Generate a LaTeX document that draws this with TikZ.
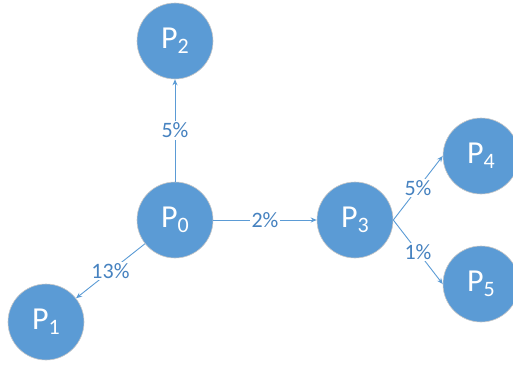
\documentclass[tikz,border=0pt]{standalone}
\usepackage{fontspec}
\setmainfont{Carlito}
\usetikzlibrary{arrows.meta}
\definecolor{nodeblue}{RGB}{91,155,213}
\definecolor{labelblue}{RGB}{70,130,192}
% state name with a lowered index
\newcommand\pstate[1]{P\raisebox{-5pt}{\fontsize{22}{22}\selectfont#1}}
\begin{document}
\begin{tikzpicture}[x=1pt,y=-1pt,
  state/.style={circle,fill=nodeblue,draw=black!22,line width=0.6pt,
    minimum size=76pt,inner sep=0pt,text=white,
    font=\fontsize{32}{32}\selectfont},
  link/.style={draw=nodeblue,line width=0.9pt,-{Stealth[length=6pt,width=5pt]}},
  pct/.style={fill=white,text=labelblue,inner sep=1.5pt,
    font=\fontsize{22}{22}\selectfont}]
\useasboundingbox (0,0) rectangle (513,364);

\node[state] (p0) at (175,220) {\pstate{0}};
\node[state] (p1) at (46,322)  {\pstate{1}};
\node[state] (p2) at (175,41)  {\pstate{2}};
\node[state] (p3) at (355,220) {\pstate{3}};
\node[state] (p4) at (481,156) {\pstate{4}};
\node[state] (p5) at (481,284) {\pstate{5}};

\draw[link] (p0) -- node[pct] {5\%} (p2);
\draw[link] (p0) -- node[pct] {2\%} (p3);
\draw[link] (p0) -- node[pct] {13\%} (p1);
\draw[link] (p3.east) -- node[pct] {5\%} (p4.west);
\draw[link] (p3.east) -- node[pct] {1\%} (p5.west);
\end{tikzpicture}
\end{document}
